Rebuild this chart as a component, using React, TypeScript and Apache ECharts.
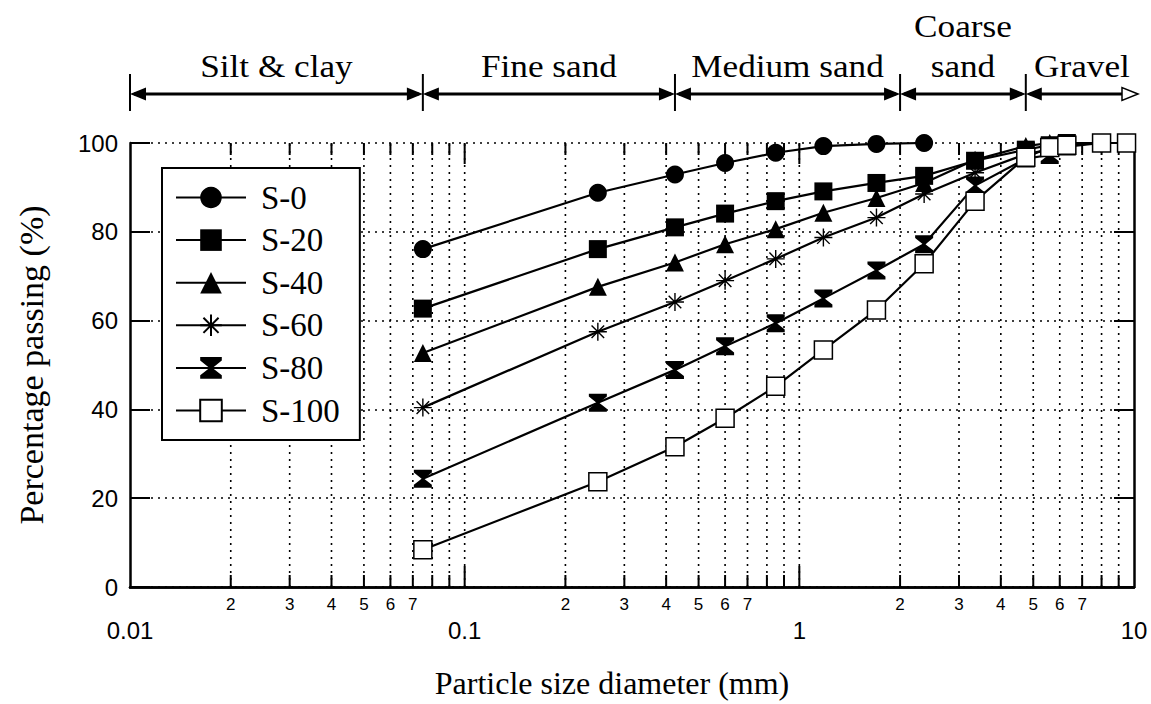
import React, { useEffect, useRef } from "react";
import * as echarts from "echarts";

// ---- data ----
const sieveSizes = [0.075, 0.25, 0.425, 0.6, 0.85, 1.18, 1.7, 2.36, 3.35, 4.75, 5.6, 6.3, 8, 9.5];
const seriesNames = ["S-0", "S-20", "S-40", "S-60", "S-80", "S-100"];
const s0 = [76.1, 88.8, 92.9, 95.5, 97.8, 99.3, 99.8, 100];
const s20 = [62.7, 76.1, 81.0, 84.1, 86.9, 89.1, 91.0, 92.6, 96.0, 98.5, 99.5, 100, 100, 100];
const s40 = [52.7, 67.6, 73.1, 77.2, 80.6, 84.3, 87.6, 91.0, 96.2, 99.3, 100, 100, 100, 100];
const s60 = [40.4, 57.5, 64.2, 69.0, 73.9, 78.7, 83.2, 88.5, 93.3, 97.5, 98.5, 99.5, 100, 100];
const s80 = [24.4, 41.5, 48.9, 54.2, 59.4, 65.0, 71.3, 77.2, 90.4, 96.5, 97.3, 99.2, 100, 100];
const s100 = [8.4, 23.7, 31.6, 38.0, 45.2, 53.4, 62.4, 72.8, 86.9, 96.8, 99.0, 99.5, 100, 100];
const seriesValues = [s0, s20, s40, s60, s80, s100];

const yTickInterval = 20;
const xMin = 0.01;
const xMax = 10;

const minorGridValues = [
  0.02, 0.03, 0.04, 0.05, 0.06, 0.07, 0.08, 0.09,
  0.2, 0.3, 0.4, 0.5, 0.6, 0.7, 0.8, 0.9,
  2, 3, 4, 5, 6, 7, 8, 9,
];
const minorGridLabels = [
  "2", "3", "4", "5", "6", "7", "", "",
  "2", "3", "4", "5", "6", "7", "", "",
  "2", "3", "4", "5", "6", "7", "", "",
];
const majorGridValues = [0.1, 1];

const classNames = ["Silt & clay", "Fine sand", "Medium sand", "Coarse\nsand", "Gravel"];
const classBounds = [0.01, 0.075, 0.425, 2, 4.75, 10];

const SERIF = "Liberation Serif";
const SANS = "Liberation Sans";

const hourglass = "path://M0,0 L10,0 L10,1.6 L5.7,5 L10,8.4 L10,10 L0,10 L0,8.4 L4.3,5 L0,1.6 Z";
const asterisk =
  "path://M5,0 L5,10 M0,5 L10,5 M1.5,1.5 L8.5,8.5 M1.5,8.5 L8.5,1.5";

const markerStyles: any[] = [
  { symbol: "circle", itemStyle: { color: "#000" } },
  { symbol: "rect", itemStyle: { color: "#000" } },
  { symbol: "triangle", itemStyle: { color: "#000" } },
  { symbol: asterisk, itemStyle: { color: "rgba(0,0,0,0)", borderColor: "#000", borderWidth: 1.4 } },
  { symbol: hourglass, itemStyle: { color: "#000" } },
  { symbol: "rect", itemStyle: { color: "#fff", borderColor: "#000", borderWidth: 1.5 } },
];

export default function App() {
  const ref = useRef<HTMLDivElement>(null);

  useEffect(() => {
    if (!ref.current) return;
    const chart = echarts.init(ref.current, null, { renderer: "svg" });

    const lineSeries = seriesNames.map((name, k) => ({
      name,
      type: "line",
      xAxisIndex: 0,
      yAxisIndex: 0,
      data: seriesValues[k].map((v, i) => [sieveSizes[i], v]),
      symbol: markerStyles[k].symbol,
      symbolSize: 18,
      showSymbol: true,
      lineStyle: { color: "#000", width: 2.2 },
      itemStyle: markerStyles[k].itemStyle,
      z: 3 + k,
      emphasis: { disabled: true },
    }));

    const gridDecor = {
      name: "minorGrid",
      type: "custom",
      xAxisIndex: 0,
      yAxisIndex: 0,
      silent: true,
      clip: false,
      z: 1,
      encode: { x: 0, y: 1 },
      data: [
        ...minorGridValues.map((v, i) => [v, 50, i, 0]),
        ...majorGridValues.map((v, i) => [v, 50, i, 1]),
      ],
      renderItem: (params: any, api: any) => {
        const v = api.value(0);
        const idx = api.value(2);
        const isMajor = api.value(3) === 1;
        const b = api.coord([v, 0]);
        const t = api.coord([v, 100]);
        const tl = isMajor ? 21 : 12;
        const children: any[] = [
          {
            type: "line",
            shape: { x1: b[0], y1: b[1], x2: t[0], y2: t[1] },
            style: { stroke: "#000", lineWidth: 1.6, lineDash: [2, 5] },
          },
          {
            type: "line",
            shape: { x1: b[0], y1: b[1], x2: b[0], y2: b[1] - tl },
            style: { stroke: "#000", lineWidth: 2 },
          },
          {
            type: "line",
            shape: { x1: t[0], y1: t[1], x2: t[0], y2: t[1] + tl },
            style: { stroke: "#000", lineWidth: 2 },
          },
        ];
        const label = isMajor ? "" : minorGridLabels[idx];
        if (label) {
          children.push({
            type: "text",
            x: b[0],
            y: b[1] + 9,
            style: {
              text: label,
              fontSize: 17,
              fontFamily: SANS,
              fill: "#000",
              align: "center",
              verticalAlign: "top",
            },
          });
        }
        return { type: "group", children };
      },
    };

    const header = {
      name: "classes",
      type: "custom",
      xAxisIndex: 0,
      yAxisIndex: 0,
      silent: true,
      clip: false,
      z: 1,
      encode: { x: [0, 1], y: 2 },
      data: classNames.map((n, i) => [classBounds[i], classBounds[i + 1], i]),
      renderItem: (params: any, api: any) => {
        const i = api.value(2);
        const a = api.coord([api.value(0), 100]);
        const b = api.coord([api.value(1), 100]);
        const y = a[1] - 49;
        const x1 = a[0];
        const last = i === classNames.length - 1;
        const x2 = b[0] + (last ? 4 : 0);
        const ah = 16;
        const aw = 6.5;
        const children: any[] = [
          {
            type: "line",
            shape: { x1: x1 + 4, y1: y, x2: x2 - 4, y2: y },
            style: { stroke: "#000", lineWidth: 3 },
          },
          {
            type: "polygon",
            shape: { points: [[x1, y], [x1 + ah, y - aw], [x1 + ah, y + aw]] },
            style: { fill: "#000" },
          },
          {
            type: "polygon",
            shape: { points: [[x2, y], [x2 - ah, y - aw], [x2 - ah, y + aw]] },
            style: last ? { fill: "#fff", stroke: "#000", lineWidth: 1.5 } : { fill: "#000" },
          },
          {
            type: "line",
            shape: { x1: x1, y1: y - 20, x2: x1, y2: y + 17 },
            style: { stroke: "#000", lineWidth: 2 },
          },
          {
            type: "text",
            x: (x1 + x2) / 2,
            y: y - 8,
            scaleX: 1.1,
            style: {
              text: classNames[i],
              fontSize: 32,
              fontFamily: SERIF,
              fill: "#000",
              align: "center",
              verticalAlign: "bottom",
              lineHeight: 40,
            },
          },
        ];
        return { type: "group", children };
      },
    };

    chart.setOption({
      animation: false,
      backgroundColor: "#fff",
      grid: { left: 130, right: 17, top: 143, bottom: 113, containLabel: false },
      legend: {
        data: seriesNames,
        orient: "vertical",
        left: 162,
        top: 168,
        padding: [13, 20, 13, 13],
        itemWidth: 70,
        itemHeight: 27,
        itemGap: 9.6,
        backgroundColor: "#fff",
        borderColor: "#000",
        borderWidth: 2,
        borderRadius: 0,
        selectedMode: false,
        textStyle: {
          fontFamily: SERIF,
          fontSize: 33,
          color: "#000",
          lineHeight: 32,
          padding: [0, 0, 0, 10],
        },
        z: 10,
      },
      xAxis: [
        {
          type: "log",
          logBase: 10,
          min: xMin,
          max: xMax,
          position: "bottom",
          name: "Particle size diameter (mm)",
          nameLocation: "middle",
          nameGap: 80,
          nameTextStyle: { fontFamily: SERIF, fontSize: 32, color: "#000", padding: [0, 40, 0, 0] },
          axisLine: { show: true, lineStyle: { color: "#000", width: 2.5 } },
          axisTick: { show: false },
          splitLine: { show: false },
          axisLabel: {
            fontFamily: SANS,
            fontSize: 24,
            color: "#000",
            margin: 31,
            formatter: (v: number) => String(v),
          },
        },
        {
          type: "log",
          logBase: 10,
          min: xMin,
          max: xMax,
          position: "top",
          axisLine: { show: true, lineStyle: { color: "#000", width: 2.5 } },
          axisTick: { show: false },
          axisLabel: { show: false },
          splitLine: { show: false },
        },
      ],
      yAxis: [
        {
          type: "value",
          min: 0,
          max: 100,
          interval: yTickInterval,
          position: "left",
          name: "Percentage passing (%)",
          nameLocation: "middle",
          nameGap: 82,
          nameTextStyle: { fontFamily: SERIF, fontSize: 34, color: "#000" },
          axisLine: { show: true, lineStyle: { color: "#000", width: 2.5 } },
          axisTick: { show: true, inside: true, length: 20, lineStyle: { color: "#000", width: 2 } },
          axisLabel: { fontFamily: SANS, fontSize: 24, color: "#000", margin: 12 },
          splitLine: { show: true, lineStyle: { color: "#000", width: 1.6, type: [2, 5] } },
        },
        {
          type: "value",
          min: 0,
          max: 100,
          interval: yTickInterval,
          position: "right",
          axisLine: { show: true, lineStyle: { color: "#000", width: 2.5 } },
          axisTick: { show: true, inside: true, length: 20, lineStyle: { color: "#000", width: 2 } },
          axisLabel: { show: false },
          splitLine: { show: false },
        },
      ],
      series: [gridDecor, header, ...lineSeries],
    } as any);

    return () => chart.dispose();
  }, []);

  return (
    <div
      ref={ref}
      style={{ position: "fixed", left: 0, top: 0, width: 1151, height: 704, background: "#fff" }}
    />
  );
}
